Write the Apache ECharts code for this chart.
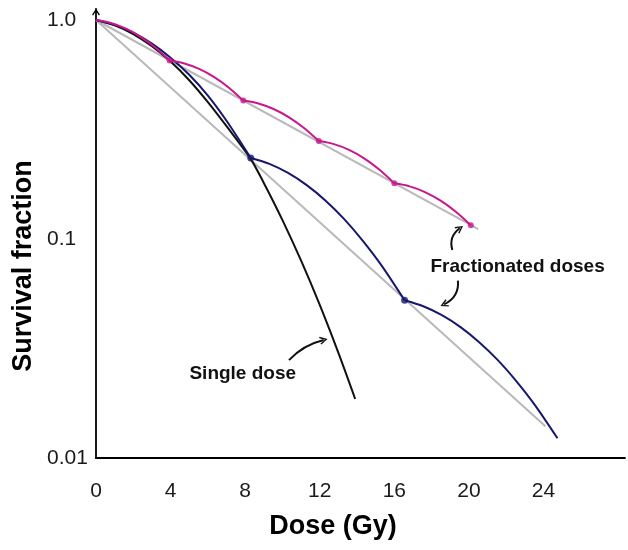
<!DOCTYPE html>
<html><head><meta charset="utf-8">
<script src="https://cdn.jsdelivr.net/npm/echarts/dist/echarts.min.js"></script>
<style>html,body{margin:0;padding:0;background:#fff}#c{width:628px;height:550px}</style>
</head><body><div id="c"></div>
<script>
// ---- data (dose in Gy, survival fraction) ----
const doseTicks = [0, 4, 8, 12, 16, 20, 24];
const survivalTicks = [0.01, 0.1, 1.0];
const survivalTickLabels = ['0.01', '0.1', '1.0'];

const singleDose = [0, 1, 2, 3, 4, 5, 6, 7, 8.3, 9, 10, 11, 12, 13, 13.9];
const singleSurv = [1, 0.9462, 0.8630, 0.7586, 0.6457, 0.5309, 0.4217, 0.3273, 0.2317, 0.1803, 0.1220, 0.0796, 0.0500, 0.0302, 0.0186];

const twoFracDose1 = [0, 1, 2, 3, 4, 5, 6, 7, 8.3];
const twoFracSurv1 = [1, 0.9506, 0.8750, 0.7798, 0.6730, 0.5623, 0.4519, 0.3467, 0.2344];
const twoFracDose2 = [8.3, 9.3, 10.3, 11.3, 12.3, 13.3, 14.3, 15.3, 16.55];
const twoFracSurv2 = [0.2344, 0.2203, 0.2002, 0.1761, 0.1500, 0.1236, 0.0984, 0.0760, 0.0525];
const twoFracDose3 = [16.55, 17.55, 18.55, 19.55, 20.55, 21.55, 22.55, 23.55, 24.75];
const twoFracSurv3 = [0.0525, 0.0493, 0.0449, 0.0396, 0.0338, 0.0280, 0.0224, 0.0174, 0.0123];

const fiveFracDose1 = [0, 0.79, 1.58, 2.37, 3.16, 3.95];
const fiveFracSurv1 = [1, 0.9698, 0.9152, 0.8403, 0.7511, 0.6531];
const fiveFracDose2 = [3.95, 4.74, 5.53, 6.32, 7.11, 7.9];
const fiveFracSurv2 = [0.6531, 0.6335, 0.5983, 0.5499, 0.4920, 0.4285];
const fiveFracDose3 = [7.9, 8.71, 9.52, 10.33, 11.14, 11.95];
const fiveFracSurv3 = [0.4285, 0.4156, 0.3922, 0.3602, 0.3219, 0.2799];
const fiveFracDose4 = [11.95, 12.76, 13.57, 14.38, 15.19, 16.0];
const fiveFracSurv4 = [0.2799, 0.2711, 0.2552, 0.2335, 0.2076, 0.1795];
const fiveFracDose5 = [16.0, 16.82, 17.64, 18.46, 19.28, 20.1];
const fiveFracSurv5 = [0.1795, 0.1739, 0.1638, 0.1500, 0.1335, 0.1156];

const fiveFracPointDose = [3.95, 7.9, 11.95, 16.0, 20.1];
const fiveFracPointSurv = [0.6531, 0.4285, 0.2799, 0.1795, 0.1156];
const twoFracPointDose = [8.3, 16.55];
const twoFracPointSurv = [0.2344, 0.0525];

const trendFiveDose = [0, 20.5];
const trendFiveSurv = [1, 0.1109];
const trendTwoDose = [0, 24.1];
const trendTwoSurv = [1, 0.01396];

// annotations (data coordinates)
const labelTexts = ['Single dose', 'Fractionated doses'];
const labelDose = [7.87, 22.61];
const labelSurv = [0.0242, 0.0745];
const arrowFromDose = [10.35, 19.11, 19.41];
const arrowFromSurv = [0.0280, 0.0891, 0.0645];
const arrowToDose = [12.21, 19.51, 18.67];
const arrowToSurv = [0.0346, 0.1119, 0.0503];
const arrowBend = [0.15, 0.35, 0.35];

// ---- chart ----
const FONT = '"Liberation Sans", Arial, Helvetica, sans-serif';
const chevron = 'path://M5,0 L10,8 L8.5,8.8 L5,2.9 L1.5,8.8 L0,8 Z';
const pair = (xs, ys) => xs.map((x, i) => [x, ys[i]]);
const NAVY = '#17176e', MAG = '#c8178e', GRAY = '#b9b9b9';

function curve(xs, ys, color, z) {
  return { type: 'line', data: pair(xs, ys), smooth: 0.3, showSymbol: false, symbol: 'none',
           lineStyle: { color: color, width: 2 }, z: z, silent: true };
}

const chart = echarts.init(document.getElementById('c'), null, { renderer: 'canvas' });
const series = [
  curve(trendFiveDose, trendFiveSurv, GRAY, 1),
  curve(trendTwoDose, trendTwoSurv, GRAY, 1),
  curve(singleDose, singleSurv, '#111', 2),
  curve(twoFracDose1, twoFracSurv1, NAVY, 3),
  curve(twoFracDose2, twoFracSurv2, NAVY, 3),
  curve(twoFracDose3, twoFracSurv3, NAVY, 3),
  curve(fiveFracDose1, fiveFracSurv1, MAG, 4),
  curve(fiveFracDose2, fiveFracSurv2, MAG, 4),
  curve(fiveFracDose3, fiveFracSurv3, MAG, 4),
  curve(fiveFracDose4, fiveFracSurv4, MAG, 4),
  curve(fiveFracDose5, fiveFracSurv5, MAG, 4),
  { type: 'scatter', data: pair(fiveFracPointDose, fiveFracPointSurv), symbolSize: 6,
    itemStyle: { color: MAG }, z: 5, silent: true },
  { type: 'scatter', data: pair(twoFracPointDose, twoFracPointSurv), symbolSize: 7,
    itemStyle: { color: NAVY }, z: 5, silent: true },
  { type: 'lines', coordinateSystem: 'cartesian2d', z: 6, silent: true,
    symbol: ['none', chevron], symbolSize: [8, 8],
    data: arrowFromDose.map((d, i) => ({
      coords: [[d, arrowFromSurv[i]], [arrowToDose[i], arrowToSurv[i]]],
      lineStyle: { curveness: arrowBend[i] }
    })),
    lineStyle: { color: '#111', width: 2, opacity: 1 } }
];

chart.setOption({
  animation: false,
  backgroundColor: '#fff',
  grid: { left: 96, right: 0, top: 9, bottom: 92, containLabel: false },
  xAxis: {
    type: 'value', min: 0, max: 28.37, interval: 4,
    axisLine: { onZero: false, lineStyle: { color: '#000', width: 1.8 } },
    axisTick: { show: false }, splitLine: { show: false },
    axisLabel: { fontSize: 21, fontFamily: FONT, color: '#1a1a1a', margin: 23,
      formatter: v => doseTicks.indexOf(Math.round(v * 1000) / 1000) >= 0 ? String(Math.round(v)) : '' }
  },
  yAxis: {
    type: 'log', logBase: 10, min: 0.01, max: 1.1226,
    axisLine: { show: true, lineStyle: { color: '#000', width: 1.8 },
      symbol: ['none', chevron], symbolSize: [8, 7], symbolOffset: [0, -3] },
    axisTick: { show: false }, splitLine: { show: false }, minorTick: { show: false },
    axisLabel: { fontSize: 21, fontFamily: FONT, color: '#1a1a1a', align: 'left', margin: 49,
      formatter: v => {
        for (let i = 0; i < survivalTicks.length; i++) {
          if (Math.abs(Math.log10(v) - Math.log10(survivalTicks[i])) < 1e-6) return survivalTickLabels[i];
        }
        return '';
      } }
  },
  series: series
});

const graphics = [
  { type: 'text', x: 333, y: 527, silent: true,
    style: { text: 'Dose (Gy)', font: 'bold 27px ' + FONT, fill: '#000', align: 'center', verticalAlign: 'middle' } },
  { type: 'text', x: 24, y: 266, rotation: Math.PI / 2, silent: true,
    style: { text: 'Survival fraction', font: 'bold 27px ' + FONT, fill: '#000', align: 'center', verticalAlign: 'middle' } }
];
labelTexts.forEach((t, i) => {
  const p = chart.convertToPixel({ gridIndex: 0 }, [labelDose[i], labelSurv[i]]);
  graphics.push({ type: 'text', x: p[0], y: p[1], silent: true,
    style: { text: t, font: 'bold 19px ' + FONT, fill: '#111', align: 'center', verticalAlign: 'middle' } });
});
chart.setOption({ graphic: graphics });
</script>
</body></html>
